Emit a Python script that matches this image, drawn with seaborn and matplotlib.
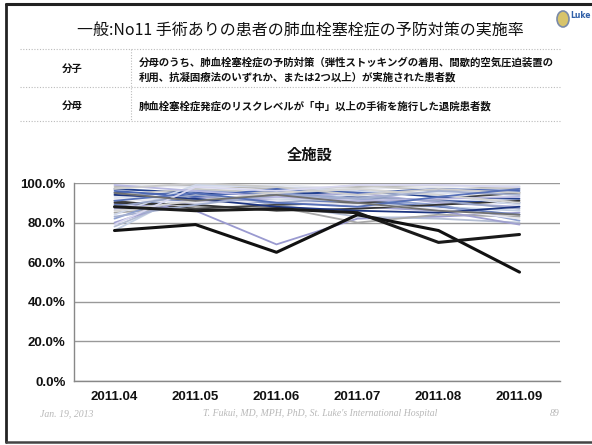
import matplotlib
matplotlib.use("Agg")
import matplotlib.pyplot as plt
from matplotlib.lines import Line2D
from matplotlib.patches import Ellipse
import numpy as np
import pandas as pd
import seaborn as sns

# ---- data -------------------------------------------------------------
months = ["2011.04", "2011.05", "2011.06", "2011.07", "2011.08", "2011.09"]

# implementation rate (%) per facility, one list per facility
fac01 = [76, 79, 65, 84, 76, 55]
fac02 = [88, 86, 87, 85, 70, 74]
fac03 = [90, 86, 69, 82, 83, 85]
fac04 = [76, 97, 92, 90, 88, 86]
fac05 = [78, 95, 89, 83, 82, 80]
fac06 = [95, 94, 96, 93, 91, 90]
fac07 = [93, 91, 92, 94, 95, 94]
fac08 = [89, 92, 90, 91, 88, 84]
fac09 = [98, 99, 97, 98, 99, 97]
fac10 = [85, 88, 88, 80, 84, 83]
fac11 = [91, 87, 89, 90, 92, 95]
fac12 = [87, 90, 93, 95, 90, 88]
fac13 = [99, 98, 99, 97, 98, 99]
fac14 = [97, 95, 94, 96, 93, 92]
fac15 = [82, 96, 95, 92, 89, 81]
fac16 = [80, 93, 91, 88, 86, 79]
fac17 = [94, 97, 95, 99, 96, 98]
fac18 = [90, 89, 86, 87, 89, 91]
fac19 = [96, 93, 97, 95, 97, 96]
fac20 = [84, 99, 98, 96, 94, 89]
fac21 = [92, 90, 91, 89, 87, 82]
fac22 = [88, 94, 90, 93, 91, 87]
fac23 = [99, 96, 93, 91, 92, 93]
fac24 = [86, 91, 95, 97, 94, 90]
fac25 = [94, 92, 88, 86, 85, 88]
fac26 = [97, 100, 98, 94, 97, 95]
fac27 = [83, 89, 94, 92, 96, 94]
fac28 = [91, 95, 90, 88, 93, 97]
fac29 = [79, 98, 96, 99, 99, 98]
fac30 = [95, 91, 94, 90, 86, 84]

facilities = [fac01, fac02, fac03, fac04, fac05, fac06, fac07, fac08, fac09, fac10,
              fac11, fac12, fac13, fac14, fac15, fac16, fac17, fac18, fac19, fac20,
              fac21, fac22, fac23, fac24, fac25, fac26, fac27, fac28, fac29, fac30]

yticks = [0, 20, 40, 60, 80, 100]
ytick_labels = ["0.0%", "20.0%", "40.0%", "60.0%", "80.0%", "100.0%"]

line_colors = ["#111111", "#1a1a1a", "#9a9ad0", "#c4d0e4", "#b4bed4",
               "#2a4898", "#dde2ee", "#6a80bc", "#b8b8b8", "#a8a8a8",
               "#444444", "#aeaed8", "#e4e6ee", "#22408e", "#8ea0d0",
               "#a0a0d0", "#c8c8c8", "#333333", "#4a66b4", "#d0d8ea",
               "#e8e8f0", "#9aa6c8", "#b8b8e0", "#d4d4d4", "#1c3480",
               "#cccccc", "#a4b0d0", "#5670b8", "#d8d8f0", "#707070"]

# ---- long-form table ---------------------------------------------------
rows = []
for i, vals in enumerate(facilities):
    for m, v in zip(months, vals):
        rows.append({"month": m, "rate": v, "facility": f"F{i + 1:02d}"})
df = pd.DataFrame(rows)

# ---- figure ------------------------------------------------------------
sns.set_theme(style="white")
plt.rcParams["font.family"] = ["Noto Sans CJK JP", "DejaVu Sans"]

W, H = 592, 445
fig = plt.figure(figsize=(W / 100, H / 100), dpi=100)
fig.patch.set_facecolor("white")


def fx(px):
    return px / W


def fy(py):
    return 1 - py / H


# slide frame
for (x0, y0, x1, y1, lw, c) in [(6, 4, 592, 4, 2.2, "#222222"),
                                (6, 4, 6, 442, 2.0, "#222222"),
                                (6, 442, 592, 442, 1.8, "#444444")]:
    fig.add_artist(Line2D([fx(x0), fx(x1)], [fy(y0), fy(y1)], lw=lw, color=c,
                          transform=fig.transFigure))

# crest in the corner
fig.add_artist(Ellipse((fx(563), fy(19)), fx(12), 16 / H, transform=fig.transFigure,
                       facecolor="#d8c46a", edgecolor="#7a8aa8", lw=1.2))
fig.text(fx(570), fy(15), "Luke", fontsize=5.5, color="#3060a8", fontweight="bold",
         ha="left", va="center", family=["DejaVu Sans"])

# heading
fig.text(fx(300), fy(31), "一般:No11 手術ありの患者の肺血栓塞栓症の予防対策の実施率",
         fontsize=11.5, ha="center", va="center", color="#111111")

# definition table
for yy in (49, 87, 121):
    fig.add_artist(Line2D([fx(20), fx(560)], [fy(yy), fy(yy)], lw=0.8, color="#bbbbbb",
                          ls=(0, (1, 1.5)), transform=fig.transFigure))
fig.add_artist(Line2D([fx(131), fx(131)], [fy(49), fy(121)], lw=0.8, color="#bbbbbb",
                      ls=(0, (1, 1.5)), transform=fig.transFigure))

fig.text(fx(72), fy(69), "分子", fontsize=7.5, ha="center", va="center",
         fontweight="bold", color="#111111")
fig.text(fx(72), fy(106), "分母", fontsize=7.5, ha="center", va="center",
         fontweight="bold", color="#111111")
fig.text(fx(139), fy(62),
         "分母のうち、肺血栓塞栓症の予防対策（弾性ストッキングの着用、間歇的空気圧迫装置の",
         fontsize=7.5, ha="left", va="center", fontweight="bold", color="#111111")
fig.text(fx(139), fy(77),
         "利用、抗凝固療法のいずれか、または2つ以上）が実施された患者数",
         fontsize=7.5, ha="left", va="center", fontweight="bold", color="#111111")
fig.text(fx(139), fy(106),
         "肺血栓塞栓症発症のリスクレベルが「中」以上の手術を施行した退院患者数",
         fontsize=7.5, ha="left", va="center", fontweight="bold", color="#111111")

# chart title
fig.text(fx(310), fy(155), "全施設", fontsize=11, ha="center", va="center",
         fontweight="bold", color="#111111")

# ---- line chart --------------------------------------------------------
ax = fig.add_axes([fx(74), fy(381), fx(560) - fx(74), (381 - 183) / H])
ax.set_facecolor("white")

sns.lineplot(data=df, x="month", y="rate", hue="facility", palette=line_colors,
             sort=False, linewidth=1.3, legend=False, ax=ax)

# the two lowest-performing facilities drawn heavier and on top
for ln in ax.lines[:2]:
    ln.set_linewidth(2.2)
    ln.set_zorder(5)

ax.set_xlim(-0.5, len(months) - 0.5)
ax.set_ylim(0, 100)
ax.set_yticks(yticks)
ax.set_yticklabels(ytick_labels)
ax.set_xticks(range(len(months)))
ax.set_xticklabels(months)
ax.set_xticks(np.arange(-0.5, len(months), 1.0), minor=True)
ax.set_xlabel("")
ax.set_ylabel("")

ax.yaxis.grid(True, color="#999999", lw=1.0)
ax.set_axisbelow(True)
for s in ("top", "right"):
    ax.spines[s].set_visible(False)
for s in ("left", "bottom"):
    ax.spines[s].set_color("#888888")
    ax.spines[s].set_linewidth(1.0)

ax.tick_params(axis="x", which="major", length=0, pad=7)
ax.tick_params(axis="x", which="minor", length=3, color="#888888", direction="out")
ax.tick_params(axis="y", length=3, color="#888888", direction="out", pad=3)
for lab in ax.get_xticklabels() + ax.get_yticklabels():
    lab.set_fontfamily(["Liberation Sans"])
    lab.set_fontweight("bold")
    lab.set_fontsize(9.5)
    lab.set_color("#111111")

# ---- footer ------------------------------------------------------------
foot = dict(fontsize=7, color="#b8b8b8", style="italic", va="center",
            family=["Liberation Serif"])
fig.text(fx(40), fy(414), "Jan. 19, 2013", ha="left", **foot)
fig.text(fx(320), fy(414), "T. Fukui, MD, MPH, PhD, St. Luke's International Hospital",
         ha="center", **foot)
fig.text(fx(560), fy(414), "89", ha="right", **foot)

fig.savefig("out.png", dpi=100, facecolor="white")
